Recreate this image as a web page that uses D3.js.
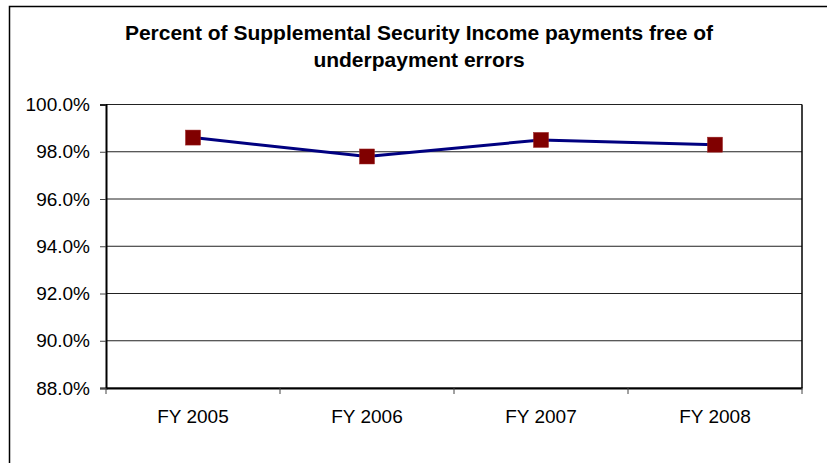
<!DOCTYPE html>
<html>
<head>
<meta charset="utf-8">
<script src="https://cdn.jsdelivr.net/npm/d3@7"></script>
<style>
  body { margin: 0; background: #fff; }
  svg { display: block; font-family: "Liberation Sans", Arial, sans-serif; }
</style>
</head>
<body>
<svg width="827" height="463"></svg>
<script>
const TITLE_LINES = ['Percent of Supplemental Security Income payments free of', 'underpayment errors']
const YEARS  = ['FY 2005', 'FY 2006', 'FY 2007', 'FY 2008']
const VALUES = [98.6, 97.8, 98.5, 98.3]
const Y_TICKS = [88, 90, 92, 94, 96, 98, 100]

const PLOT = { left: 106, right: 802, top: 104.5, bottom: 388 }

const svg = d3.select('svg')

// frame of the chart area (only top and left edges visible in the crop)
svg.append('path')
  .attr('d', 'M9.5,463 L9.5,6.5 L827,6.5')
  .attr('fill', 'none')
  .attr('stroke', '#000')
  .attr('stroke-width', 1.5)

// title
const title = svg.append('text')
  .attr('text-anchor', 'middle')
  .attr('font-weight', 'bold')
  .attr('font-size', 21)
  .attr('fill', '#000')
title.selectAll('tspan')
  .data(TITLE_LINES)
  .join('tspan')
  .attr('x', 419)
  .attr('y', (d, i) => 40 + i * 27)
  .text(d => d)

const x = d3.scaleBand()
  .domain(YEARS)
  .range([PLOT.left, PLOT.right])

const y = d3.scaleLinear()
  .domain([88, 100])
  .range([PLOT.bottom, PLOT.top])

// gridlines
svg.append('g')
  .selectAll('line')
  .data(Y_TICKS)
  .join('line')
  .attr('x1', PLOT.left)
  .attr('x2', PLOT.right)
  .attr('y1', d => y(d))
  .attr('y2', d => y(d))
  .attr('stroke', '#222')
  .attr('stroke-width', 1)

// right edge of the plot
svg.append('line')
  .attr('x1', PLOT.right).attr('x2', PLOT.right)
  .attr('y1', PLOT.top).attr('y2', PLOT.bottom)
  .attr('stroke', '#000')
  .attr('stroke-width', 1.5)

// y axis
const yAxis = svg.append('g')
  .attr('transform', `translate(${PLOT.left},0)`)
  .call(d3.axisLeft(y)
    .tickValues(Y_TICKS)
    .tickSize(6)
    .tickPadding(10)
    .tickFormat(d => d.toFixed(1) + '%'))
yAxis.select('.domain').attr('stroke', '#000').attr('stroke-width', 2)
yAxis.selectAll('.tick line').attr('stroke', '#444')
yAxis.selectAll('.tick text')
  .attr('font-size', 19)
  .attr('font-family', '"Liberation Sans", Arial, sans-serif')
  .attr('fill', '#000')

// x axis, ticks at category boundaries
const xAxis = svg.append('g')
  .attr('transform', `translate(0,${PLOT.bottom})`)
  .call(d3.axisBottom(x).tickSize(0).tickPadding(22))
xAxis.select('.domain').attr('stroke', '#000').attr('stroke-width', 2)
xAxis.selectAll('.tick text')
  .attr('font-size', 19)
  .attr('font-family', '"Liberation Sans", Arial, sans-serif')
  .attr('fill', '#000')

const bounds = YEARS.map(d => x(d)).concat([x(YEARS[YEARS.length - 1]) + x.bandwidth()])
svg.append('g')
  .selectAll('line')
  .data(bounds)
  .join('line')
  .attr('x1', d => d).attr('x2', d => d)
  .attr('y1', PLOT.bottom).attr('y2', PLOT.bottom + 6)
  .attr('stroke', '#444')
  .attr('stroke-width', 1)

// series
const data = YEARS.map((yr, i) => ({ yr, v: VALUES[i] }))
const cx = d => x(d.yr) + x.bandwidth() / 2

svg.append('path')
  .datum(data)
  .attr('fill', 'none')
  .attr('stroke', '#000080')
  .attr('stroke-width', 3)
  .attr('d', d3.line().x(cx).y(d => y(d.v)))

const MARK = 15
svg.append('g')
  .selectAll('rect')
  .data(data)
  .join('rect')
  .attr('x', d => cx(d) - MARK / 2)
  .attr('y', d => y(d.v) - MARK / 2)
  .attr('width', MARK)
  .attr('height', MARK)
  .attr('fill', '#800000')
  .attr('stroke', '#9a2020')
  .attr('stroke-width', 0.5)
</script>
</body>
</html>
